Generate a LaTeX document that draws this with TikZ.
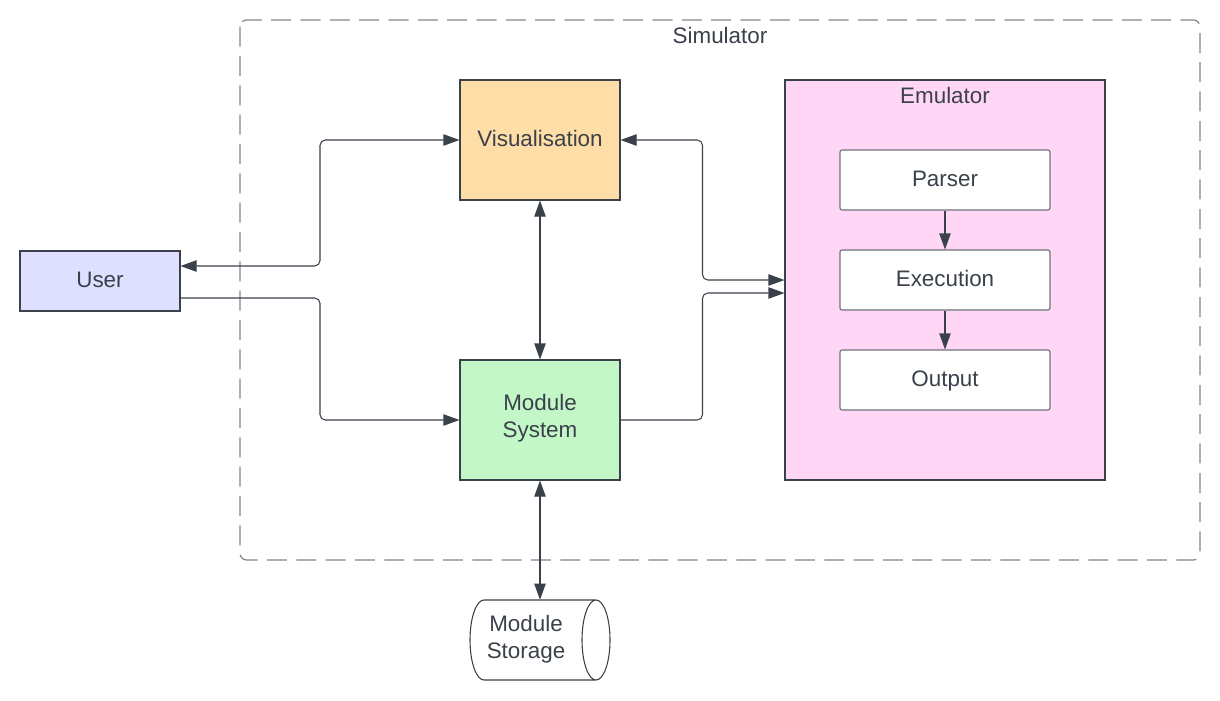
\documentclass[tikz,border=0pt]{standalone}
\usepackage{fontspec}
\setmainfont{Liberation Sans}
\usetikzlibrary{arrows.meta,calc}
\definecolor{ink}{RGB}{58,65,74}
\definecolor{framegray}{RGB}{128,132,140}
\definecolor{subgray}{RGB}{110,114,122}
\definecolor{userfill}{RGB}{223,223,255}
\definecolor{visfill}{RGB}{255,221,166}
\definecolor{modfill}{RGB}{195,247,200}
\definecolor{emufill}{RGB}{255,214,246}
\tikzset{
  lbl/.style={text=ink, font=\fontsize{16.8}{20.3}\selectfont, align=center, inner sep=0pt},
  one/.style={text height=12pt, text depth=3pt},
  mainbox/.style={lbl, draw=ink, line width=0.8pt, minimum width=120pt, minimum height=90pt},
  subbox/.style={lbl, one, draw=subgray, fill=white, line width=0.8pt, rounded corners=1.5pt, minimum width=157.5pt, minimum height=45pt},
  conn/.style={draw=ink, line width=0.8pt, rounded corners=4pt},
  tip/.style={-{Triangle[length=12pt,width=8.5pt]}},
  tips/.style={{Triangle[length=12pt,width=8.5pt]}-{Triangle[length=12pt,width=8.5pt]}},
}
\begin{document}
\begin{tikzpicture}[x=0.75pt,y=-0.75pt]
\useasboundingbox (0,0) rectangle (1220,700);
% Simulator frame
\draw[framegray, line width=0.9pt, dash pattern=on 15pt off 7pt, rounded corners=5pt] (240,20) rectangle (1200,560);
\node[lbl] (simlabel) at (720,35) {Simulator};
% Emulator
\node[lbl, draw=ink, fill=emufill, line width=0.8pt, minimum width=240pt, minimum height=300pt] (emu) at (945,280) {};
\node[lbl] (emulabel) at (945,95) {Emulator};
\node[subbox] (parser) at (945,180) {Parser};
\node[subbox] (exec) at (945,280) {Execution};
\node[subbox] (output) at (945,380) {Output};
% main boxes
\node[lbl, one, draw=ink, fill=userfill, line width=0.8pt, minimum width=120pt, minimum height=45pt] (user) at (100,281) {User};
\node[mainbox, one, fill=visfill] (vis) at (540,140) {Visualisation};
\node[mainbox, text depth=6.5pt, fill=modfill] (mod) at (540,420) {Module\\System};
% Module Storage cylinder
\node[lbl, minimum width=105pt, minimum height=60pt] (store) at (540,640) {};
\draw[ink, line width=0.8pt] (484,600) -- (596,600) arc[start angle=-90, end angle=270, x radius=14, y radius=40]
  (596,680) -- (484,680) arc[start angle=90, end angle=270, x radius=14, y radius=40];
\node[lbl] (storelabel) at (526,639) {Module\\Storage};
% connectors
\coordinate (u1) at ($(user.east)+(0,-15)$);
\coordinate (u2) at ($(user.east)+(0,17)$);
\coordinate (e2) at ($(emu.west)+(0,13)$);
\coordinate (mx) at ($(vis.east)!0.5!(emu.west)$);
\draw[conn, tips] (u1) -| ($(u1)!0.5!(vis.west)$) |- (vis.west);
\draw[conn, tip] (u2) -| ($(u2)!0.5!(mod.west)$) |- (mod.west);
\draw[conn, tips] (vis.south) -- (mod.north);
\draw[conn, tips] (vis.east) -| (mx) |- (emu.west);
\draw[conn, tip] (mod.east) -| (mx |- e2) -- (e2);
\draw[conn, tips] (mod.south) -- (store.north);
\draw[conn, tip] (parser.south) -- (exec.north);
\draw[conn, tip] (exec.south) -- (output.north);
\end{tikzpicture}
\end{document}
